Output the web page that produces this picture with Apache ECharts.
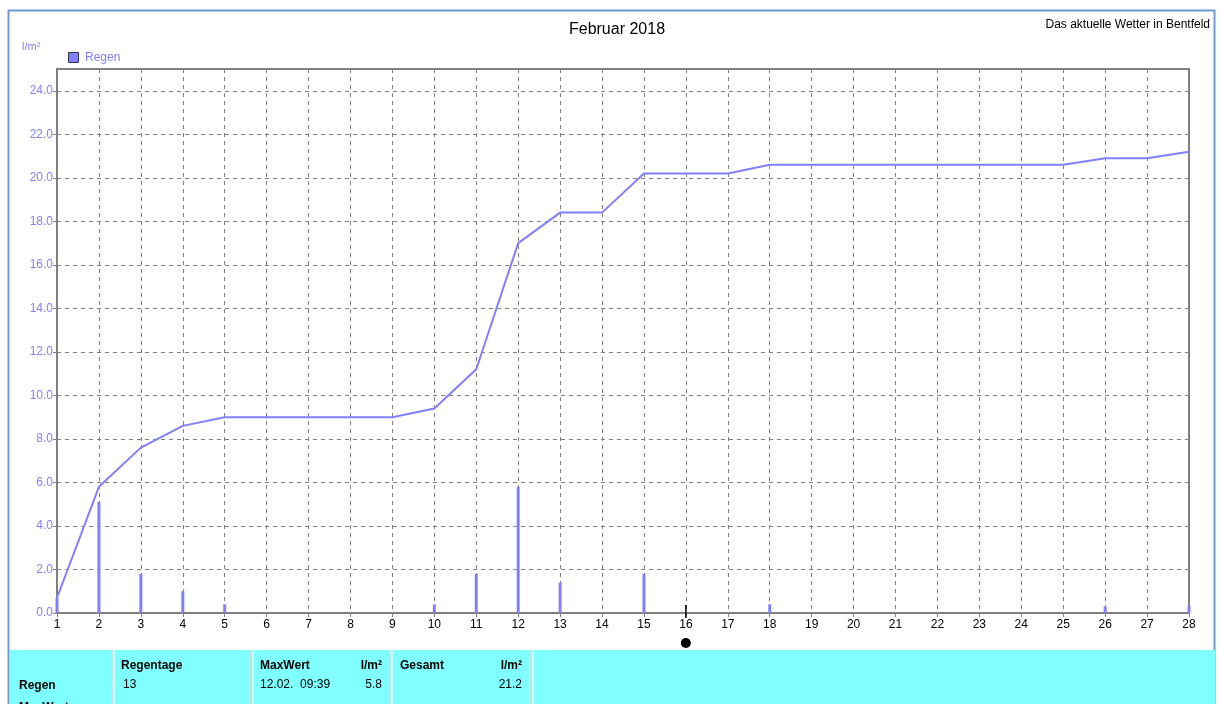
<!DOCTYPE html>
<html><head><meta charset="utf-8">
<script src="https://cdn.jsdelivr.net/npm/echarts@6/dist/echarts.min.js"></script>
<style>html,body{margin:0;padding:0;background:#fff}#c{width:1219px;height:704px}</style>
</head><body><div id="c"></div>
<script>
const days = [1,2,3,4,5,6,7,8,9,10,11,12,13,14,15,16,17,18,19,20,21,22,23,24,25,26,27,28];
const cumulative = [0.7,5.8,7.6,8.6,9.0,9.0,9.0,9.0,9.0,9.4,11.2,17.0,18.4,18.4,20.2,20.2,20.2,20.6,20.6,20.6,20.6,20.6,20.6,20.6,20.6,20.9,20.9,21.2];
const daily = [0.7,5.1,1.8,1.0,0.4,0,0,0,0,0.4,1.8,5.8,1.4,0,1.8,0,0,0.4,0,0,0,0,0,0,0,0.3,0,0.3];
const yTicks = [0,2,4,6,8,10,12,14,16,18,20,22,24];
const todayDay = 16;
const stats = {regentage:'13', maxDate:'12.02.  09:39', maxVal:'5.8', total:'21.2'};

const FONT = '"Liberation Sans", Arial, sans-serif';
const BLUE = '#8080ff';
const chart = echarts.init(document.getElementById('c'));
const lineData = days.map((d,i)=>[d,cumulative[i]]);
const barData = days.map((d,i)=>[d,daily[i]]).filter(p=>p[1]>0);

chart.setOption({
  animation:false,
  backgroundColor:'#ffffff',
  textStyle:{fontFamily:FONT},
  grid:{left:57,right:30,top:69,bottom:91,show:true,borderColor:'#808080',borderWidth:2,backgroundColor:'transparent'},
  xAxis:{type:'value',min:1,max:28,interval:1,
    axisLine:{show:true,lineStyle:{color:'#808080',width:2}},
    axisTick:{show:true,length:4,lineStyle:{color:'#808080'}},
    axisLabel:{color:'#000',fontSize:12,fontFamily:FONT,margin:6},
    splitLine:{show:true,lineStyle:{color:'#808080',type:[4,4],width:1}}},
  yAxis:{type:'value',min:0,max:25,interval:2,
    axisLine:{show:true,lineStyle:{color:'#808080',width:2}},
    axisTick:{show:true,length:4,customValues:yTicks,lineStyle:{color:'#808080'}},
    axisLabel:{color:BLUE,fontSize:12,fontFamily:FONT,margin:4,customValues:yTicks,
      formatter:v=>yTicks.indexOf(v)>=0?Number(v).toFixed(1):''},
    splitLine:{show:true,lineStyle:{color:'#808080',type:[4,4],width:1}}},
  series:[
    {type:'bar',data:barData,barWidth:3,itemStyle:{color:BLUE},z:3},
    {type:'line',data:lineData,symbol:'none',lineStyle:{color:BLUE,width:2},itemStyle:{color:BLUE},z:4}
  ]
});

const tp = chart.convertToPixel({gridIndex:0},[todayDay,0]);
const g = [
  {type:'rect',shape:{x:8.5,y:10.5,width:1206,height:700},style:{fill:'none',stroke:'#6d9bd1',lineWidth:2},z:0,silent:true},
  {type:'text',x:617,y:30,style:{text:'Februar 2018',font:'16px '+FONT,fill:'#000',align:'center',verticalAlign:'middle'}},
  {type:'text',x:1210,y:25,style:{text:'Das aktuelle Wetter in Bentfeld',font:'12px '+FONT,fill:'#000',align:'right',verticalAlign:'middle'}},
  {type:'text',x:22,y:47,style:{text:'l/m²',font:'11px '+FONT,fill:BLUE,verticalAlign:'middle'}},
  {type:'rect',shape:{x:68.5,y:52.5,width:10,height:10},style:{fill:BLUE,stroke:'#303050',lineWidth:1}},
  {type:'text',x:85,y:58,style:{text:'Regen',font:'12px '+FONT,fill:BLUE,verticalAlign:'middle'}},
  {type:'line',shape:{x1:tp[0],y1:tp[1]-8,x2:tp[0],y2:tp[1]+5},style:{stroke:'#000',lineWidth:1.5},z:10},
  {type:'circle',shape:{cx:tp[0],cy:tp[1]+30,r:5},style:{fill:'#000'},z:10},
  {type:'rect',shape:{x:10,y:650,width:1205,height:60},style:{fill:'#80ffff'}},
];
[112,251,390,531].forEach(x=>{
  g.push({type:'line',shape:{x1:x,y1:650,x2:x,y2:704},style:{stroke:'#c8e0e0',lineWidth:2},z:2});
  g.push({type:'line',shape:{x1:x+2,y1:650,x2:x+2,y2:704},style:{stroke:'#ffffff',lineWidth:1},z:2});
});
const txt=(t,x,y,bold,align)=>g.push({type:'text',x:x,y:y,z:3,style:{text:t,font:(bold?'bold ':'')+'12px '+FONT,fill:'#000',align:align||'left',verticalAlign:'middle'}});
txt('Regen',19,686,true);
txt('MaxWert',19,708,true);
txt('Regentage',121,666,true);
txt(stats.regentage,123,685,false);
txt('MaxWert',260,666,true);
txt('l/m²',382,666,true,'right');
txt(stats.maxDate,260,685,false);
txt(stats.maxVal,382,685,false,'right');
txt('Gesamt',400,666,true);
txt('l/m²',522,666,true,'right');
txt(stats.total,522,685,false,'right');
chart.setOption({graphic:g});
</script></body></html>
